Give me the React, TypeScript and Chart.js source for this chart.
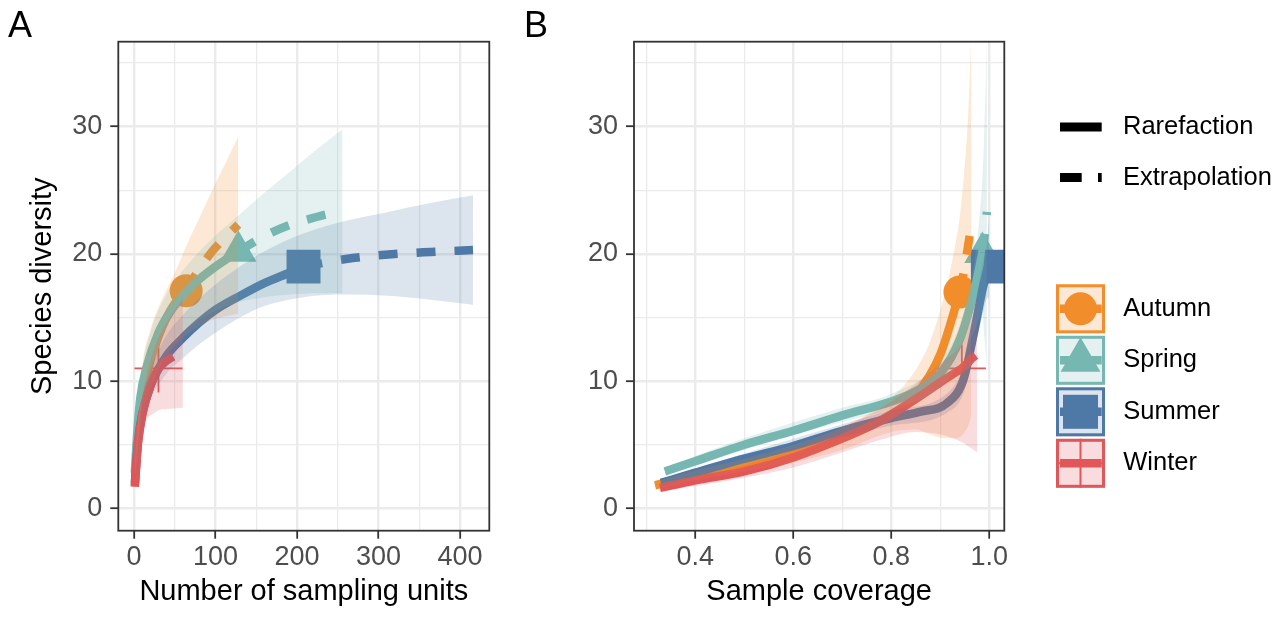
import React, { useEffect, useRef } from 'react';
import { Chart, registerables } from 'chart.js';

Chart.register(...registerables);

const FONT = '"Liberation Sans", Arial, Helvetica, sans-serif';

const SEASONS = ['Autumn', 'Spring', 'Summer', 'Winter'];
const LINE_TYPES = ['Rarefaction', 'Extrapolation'];
const PANEL_LABELS = ['A', 'B'];
const X_TITLE_A = 'Number of sampling units';
const X_TITLE_B = 'Sample coverage';
const Y_TITLE = 'Species diversity';

// ---- Tick values / labels ----
const xMajorA = [0, 100, 200, 300, 400];
const xMinorA = [50, 150, 250, 350];
const xLabelsA = ['0', '100', '200', '300', '400'];
const xMajorB = [0.4, 0.6, 0.8, 1.0];
const xMinorB = [0.3, 0.5, 0.7, 0.9];
const xLabelsB = ['0.4', '0.6', '0.8', '1.0'];
const yMajor = [0, 10, 20, 30];
const yMinor = [5, 15, 25, 35];
const yLabels = ['0', '10', '20', '30'];

// ---- Panel A: size-based ----
const sizeRareAutumn = [1, 5, 10, 20, 30, 40, 50, 64];
const divRareAutumn = [1.8, 6.0, 8.6, 11.6, 13.5, 15.0, 16.1, 17.1];
const sizeExtAutumn = [64, 80, 96, 112, 128];
const divExtAutumn = [17.1, 18.8, 20.2, 21.3, 22.3];
const sizeBandAutumn = [1, 10, 20, 30, 40, 50, 64, 80, 96, 112, 128];
const loBandAutumn = [1.4, 6.8, 9.3, 10.9, 12.0, 12.8, 13.6, 14.3, 14.8, 15.1, 15.3];
const hiBandAutumn = [2.3, 11.0, 14.0, 15.8, 17.2, 18.5, 20.6, 22.8, 25.0, 27.1, 29.2];

const sizeRareSpring = [1, 4, 8, 15, 30, 45, 60, 80, 100, 128];
const divRareSpring = [2.8, 6.0, 8.8, 11.0, 13.8, 15.5, 16.7, 18.0, 19.0, 20.2];
const sizeExtSpring = [128, 160, 192, 224, 256];
const divExtSpring = [20.2, 21.4, 22.3, 22.9, 23.4];
const sizeBandSpring = [1, 10, 20, 40, 64, 96, 128, 160, 192, 224, 256];
const loBandSpring = [2.1, 8.0, 10.3, 12.6, 14.1, 15.4, 16.2, 16.6, 16.8, 16.9, 16.9];
const hiBandSpring = [3.5, 10.8, 13.8, 16.8, 19.0, 21.2, 23.0, 24.8, 26.5, 28.2, 29.8];

const sizeRareSummer = [1, 5, 10, 20, 40, 60, 80, 100, 130, 160, 190, 208];
const divRareSummer = [2.0, 5.3, 7.4, 9.6, 12.0, 13.4, 14.6, 15.6, 16.7, 17.7, 18.5, 19.0];
const sizeExtSummer = [208, 260, 312, 364, 416];
const divExtSummer = [19.0, 19.6, 19.95, 20.15, 20.3];
const sizeBandSummer = [1, 10, 20, 40, 60, 80, 100, 130, 160, 208, 260, 312, 364, 416];
const loBandSummer = [1.5, 6.4, 8.5, 10.6, 11.8, 12.9, 13.8, 15.0, 15.9, 16.6, 16.8, 16.7, 16.4, 16.0];
const hiBandSummer = [2.6, 8.6, 10.9, 13.6, 15.2, 16.5, 17.6, 19.0, 20.2, 21.6, 22.6, 23.3, 24.0, 24.6];

const sizeRareWinter = [1, 3, 5, 10, 15, 20, 25, 30];
const divRareWinter = [1.7, 3.6, 5.2, 7.3, 8.6, 9.6, 10.4, 11.0];
const sizeExtWinter = [30, 40, 50, 60];
const divExtWinter = [11.0, 11.6, 12.0, 12.3];
const sizeBandWinter = [1, 5, 10, 15, 20, 25, 30, 40, 50, 60];
const loBandWinter = [1.2, 4.5, 6.2, 7.0, 7.3, 7.5, 7.7, 7.8, 7.85, 7.9];
const hiBandWinter = [2.2, 6.0, 8.6, 10.3, 11.6, 12.6, 13.4, 14.6, 15.6, 16.5];

const obsSizeA = [64, 128, 208, 30];
const obsDivA = [17.1, 20.2, 19.0, 11.0];

// ---- Panel B: coverage-based ----
const covRareAutumn = [0.318, 0.4, 0.5, 0.6, 0.7, 0.8, 0.85, 0.9, 0.94];
const divCovRareAutumn = [1.8, 2.6, 3.4, 4.3, 5.5, 7.4, 8.9, 12.1, 17.0];
const covExtAutumn = [0.94, 0.95, 0.957, 0.963];
const divCovExtAutumn = [17.0, 19.0, 20.7, 22.2];
const covBandAutumn = [0.318, 0.4, 0.5, 0.6, 0.7, 0.8, 0.85, 0.88, 0.91, 0.93, 0.94, 0.95, 0.957, 0.963];
const loCovAutumn = [1.5, 2.2, 2.9, 3.6, 4.6, 6.0, 6.2, 5.8, 5.5, 5.5, 5.6, 6.0, 6.5, 7.2];
const hiCovAutumn = [2.1, 3.0, 3.9, 5.0, 6.4, 8.7, 10.9, 13.2, 17.0, 20.6, 23.0, 27.0, 31.0, 37.0];

const covRareSpring = [0.338, 0.4, 0.5, 0.6, 0.7, 0.8, 0.85, 0.9, 0.94, 0.97, 0.986];
const divCovRareSpring = [2.9, 3.7, 5.0, 6.1, 7.3, 8.4, 9.2, 10.6, 13.3, 17.2, 20.1];
const covExtSpring = [0.986, 0.99, 0.993, 0.995];
const divCovExtSpring = [20.1, 21.4, 22.5, 23.3];
const covBandSpring = [0.338, 0.5, 0.7, 0.8, 0.9, 0.94, 0.97, 0.98, 0.986, 0.99, 0.993, 0.995];
const loCovSpring = [2.6, 4.6, 6.8, 7.8, 9.5, 11.5, 14.0, 15.0, 15.5, 13.5, 12.0, 11.2];
const hiCovSpring = [3.2, 5.5, 7.9, 9.0, 11.5, 14.5, 19.5, 23.0, 26.0, 30.0, 34.0, 37.0];

const covRareSummer = [0.33, 0.4, 0.5, 0.6, 0.7, 0.8, 0.86, 0.913, 0.947, 0.967, 0.985, 0.997];
const divCovRareSummer = [2.0, 2.8, 3.9, 4.9, 6.1, 7.1, 7.6, 8.25, 10.1, 13.5, 17.0, 19.0];
const covExtSummer = [0.997, 0.999, 1.0];
const divCovExtSummer = [19.0, 19.8, 20.3];
const covBandSummer = [0.33, 0.5, 0.7, 0.8, 0.913, 0.947, 0.967, 0.985, 0.997, 0.999, 1.0];
const loCovSummer = [1.7, 3.5, 5.6, 6.5, 7.5, 9.0, 12.0, 15.0, 16.6, 16.5, 16.0];
const hiCovSummer = [2.3, 4.3, 6.6, 7.7, 9.0, 11.2, 15.0, 19.0, 21.6, 23.0, 24.6];

const covRareWinter = [0.328, 0.4, 0.5, 0.6, 0.7, 0.78, 0.85, 0.9, 0.944];
const divCovRareWinter = [1.6, 2.2, 2.9, 4.0, 5.5, 6.9, 8.6, 9.9, 11.0];
const covExtWinter = [0.944, 0.955, 0.965, 0.975];
const divCovExtWinter = [11.0, 11.4, 11.8, 12.1];
const covBandWinter = [0.328, 0.5, 0.6, 0.7, 0.78, 0.85, 0.9, 0.944, 0.96, 0.975];
const loCovWinter = [1.3, 2.4, 3.2, 4.4, 5.4, 6.0, 5.8, 5.2, 4.8, 4.4];
const hiCovWinter = [1.9, 3.4, 4.6, 6.3, 7.9, 9.8, 11.4, 13.0, 14.5, 16.5];

const obsCovB = [0.94, 0.986, 0.997, 0.944];
const obsDivB = [17.0, 20.1, 19.0, 11.0];

// ---- Styles ----
const COLORS = ['#F28E2B', '#76B7B2', '#4E79A7', '#E15759'];
const SHAPES = ['circle', 'triangle', 'rect', 'cross'];
const SHAPE_RADII = [16.5, 21, 24, 24];

function rgba(hex: string, a: number) {
  const n = parseInt(hex.slice(1), 16);
  return `rgba(${(n >> 16) & 255},${(n >> 8) & 255},${n & 255},${a})`;
}
function pts(xs: number[], ys: number[]) {
  return xs.map((x, i) => ({ x, y: ys[i] }));
}

const seriesA = [
  { rx: sizeRareAutumn, ry: divRareAutumn, ex: sizeExtAutumn, ey: divExtAutumn, bx: sizeBandAutumn, lo: loBandAutumn, hi: hiBandAutumn },
  { rx: sizeRareSpring, ry: divRareSpring, ex: sizeExtSpring, ey: divExtSpring, bx: sizeBandSpring, lo: loBandSpring, hi: hiBandSpring },
  { rx: sizeRareSummer, ry: divRareSummer, ex: sizeExtSummer, ey: divExtSummer, bx: sizeBandSummer, lo: loBandSummer, hi: hiBandSummer },
  { rx: sizeRareWinter, ry: divRareWinter, ex: sizeExtWinter, ey: divExtWinter, bx: sizeBandWinter, lo: loBandWinter, hi: hiBandWinter },
];
const seriesB = [
  { rx: covRareAutumn, ry: divCovRareAutumn, ex: covExtAutumn, ey: divCovExtAutumn, bx: covBandAutumn, lo: loCovAutumn, hi: hiCovAutumn },
  { rx: covRareSpring, ry: divCovRareSpring, ex: covExtSpring, ey: divCovExtSpring, bx: covBandSpring, lo: loCovSpring, hi: hiCovSpring },
  { rx: covRareSummer, ry: divCovRareSummer, ex: covExtSummer, ey: divCovExtSummer, bx: covBandSummer, lo: loCovSummer, hi: hiCovSummer },
  { rx: covRareWinter, ry: divCovRareWinter, ex: covExtWinter, ey: divCovExtWinter, bx: covBandWinter, lo: loCovWinter, hi: hiCovWinter },
];

function buildDatasets(series: any[], obsX: number[], obsY: number[]) {
  const ds: any[] = [];
  series.forEach((s, i) => {
    const c = COLORS[i];
    const rev = 3 - i;
    // ribbons (drawn on top, translucent)
    ds.push({
      data: pts(s.bx, s.hi), borderWidth: 0, pointRadius: 0, fill: '+1',
      backgroundColor: rgba(c, 0.2), borderColor: 'rgba(0,0,0,0)', cubicInterpolationMode: 'monotone', order: 10 + rev,
    });
    ds.push({
      data: pts(s.bx, s.lo), borderWidth: 0, pointRadius: 0, fill: false,
      borderColor: 'rgba(0,0,0,0)', cubicInterpolationMode: 'monotone', order: 10 + rev,
    });
    // lines
    ds.push({
      data: pts(s.rx, s.ry), borderColor: c, borderWidth: 8.5, pointRadius: 0, fill: false,
      cubicInterpolationMode: 'monotone', order: 30 + rev * 2,
    });
    ds.push({
      data: pts(s.ex, s.ey), borderColor: c, borderWidth: 8.5, pointRadius: 0, fill: false,
      borderDash: [19, 19], cubicInterpolationMode: 'monotone', order: 30 + rev * 2 + 1,
    });
    // observed points
    ds.push({
      data: [{ x: obsX[i], y: obsY[i] }], showLine: false, fill: false,
      pointStyle: SHAPES[i], pointRadius: SHAPE_RADII[i],
      pointBackgroundColor: c, pointBorderColor: c,
      pointBorderWidth: SHAPES[i] === 'cross' ? 1.8 : 0, order: 60 + rev,
    });
  });
  return ds;
}

const near = (list: number[], v: number) => list.findIndex((m) => Math.abs(m - v) < 1e-6);

function axis(min: number, max: number, major: number[], minor: number[], labels: string[], horizontal: boolean, title: string | null, size: number) {
  const all = [...major, ...minor].sort((a, b) => a - b);
  return {
    type: 'linear',
    min, max,
    afterBuildTicks: (s: any) => { s.ticks = all.map((v) => ({ value: v })); },
    afterFit: (s: any) => { if (horizontal) s.height = size; else s.width = size; },
    ticks: {
      autoSkip: false, maxRotation: 0, minRotation: 0,
      padding: horizontal ? 3 : 8,
      color: '#4D4D4D',
      font: { family: FONT, size: 27 },
      callback: (v: number) => { const k = near(major, v); return k >= 0 ? labels[k] : ''; },
    },
    grid: {
      color: '#EBEBEB',
      lineWidth: (ctx: any) => (ctx.tick && near(major, ctx.tick.value) >= 0 ? 2.4 : 1.3),
      tickColor: (ctx: any) => (ctx.tick && near(major, ctx.tick.value) >= 0 ? '#333333' : 'rgba(0,0,0,0)'),
      tickWidth: 1.8,
      tickLength: 8,
      drawTicks: true,
    },
    border: { display: false },
    title: title
      ? {
          display: true, text: title, color: '#000',
          font: { family: FONT, size: 29 },
          padding: horizontal ? { top: 0, bottom: 7.6 } : { top: 26, bottom: 0 },
        }
      : { display: false },
  };
}

const framePlugin = {
  id: 'frame',
  afterDatasetsDraw(chart: any) {
    const { ctx, chartArea: a } = chart;
    ctx.save();
    ctx.strokeStyle = '#333333';
    ctx.lineWidth = 1.8;
    ctx.strokeRect(a.left, a.top, a.right - a.left, a.bottom - a.top);
    ctx.restore();
  },
};

function letterPlugin(text: string, x: number) {
  return {
    id: 'letter' + text,
    afterDraw(chart: any) {
      const ctx = chart.ctx;
      ctx.save();
      ctx.font = `36px ${FONT}`;
      ctx.fillStyle = '#000';
      ctx.textBaseline = 'alphabetic';
      ctx.textAlign = 'left';
      ctx.fillText(text, x, 37);
      ctx.restore();
    },
  };
}

const OX = -520;
const legendPlugin = {
  id: 'iLegend',
  afterDraw(chart: any) {
    const ctx = chart.ctx;
    ctx.save();
    ctx.lineCap = 'butt';
    ctx.strokeStyle = '#000';
    ctx.lineWidth = 9;
    ctx.beginPath(); ctx.moveTo(1060 + OX, 127); ctx.lineTo(1101.7 + OX, 127); ctx.stroke();
    ctx.setLineDash([21.7, 16.3]);
    ctx.beginPath(); ctx.moveTo(1060 + OX, 177.5); ctx.lineTo(1101.7 + OX, 177.5); ctx.stroke();
    ctx.setLineDash([]);
    ctx.font = `25.5px ${FONT}`;
    ctx.fillStyle = '#000';
    ctx.textBaseline = 'middle';
    ctx.textAlign = 'left';
    ctx.fillText(LINE_TYPES[0], 1123 + OX, 127);
    ctx.fillText(LINE_TYPES[1], 1123 + OX, 177.5);

    SEASONS.forEach((name, i) => {
      const c = COLORS[i];
      const left = 1056 + OX;
      const top = 284.3 + i * 51.5;
      const sz = 49;
      const cx = left + sz / 2;
      const cy = top + sz / 2;
      ctx.fillStyle = '#fff';
      ctx.fillRect(left, top, sz, sz);
      ctx.fillStyle = c;
      ctx.strokeStyle = c;
      if (i === 0) {
        ctx.beginPath(); ctx.arc(cx, cy, 16.5, 0, Math.PI * 2); ctx.fill();
      } else if (i === 1) {
        const r = 23;
        ctx.beginPath();
        for (let k = 0; k < 3; k++) {
          const ang = (k * 2 * Math.PI) / 3;
          const px = cx + Math.sin(ang) * r;
          const py = cy - Math.cos(ang) * r;
          if (k === 0) ctx.moveTo(px, py); else ctx.lineTo(px, py);
        }
        ctx.closePath(); ctx.fill();
      } else if (i === 2) {
        ctx.fillRect(cx - 17.5, cy - 17, 35, 34);
      } else {
        ctx.lineWidth = 2;
        ctx.beginPath();
        ctx.moveTo(cx, top); ctx.lineTo(cx, top + sz);
        ctx.moveTo(left, cy); ctx.lineTo(left + sz, cy);
        ctx.stroke();
      }
      ctx.lineWidth = 8.5;
      ctx.beginPath(); ctx.moveTo(1060 + OX, cy); ctx.lineTo(1101.7 + OX, cy); ctx.stroke();
      ctx.fillStyle = rgba(c, 0.2);
      ctx.fillRect(left, top, sz, sz);
      ctx.lineWidth = 3;
      ctx.strokeRect(left + 1.5, top + 1.5, sz - 3, sz - 3);
      ctx.fillStyle = '#000';
      ctx.fillText(name, 1123.3 + OX, cy);
    });
    ctx.restore();
  },
};

function baseOptions(padRight: number, yWidth: number, xScale: any, yTitle: string | null) {
  return {
    responsive: false,
    animation: false,
    devicePixelRatio: 1,
    events: [],
    layout: { padding: { left: 0, right: padRight, top: 41.7, bottom: 0 } },
    plugins: { legend: { display: false }, tooltip: { enabled: false } },
    scales: {
      x: xScale,
      y: axis(-1.76, 36.68, yMajor, yMinor, yLabels, false, yTitle, yWidth),
    },
  };
}

export default function App() {
  const refA = useRef<HTMLCanvasElement>(null);
  const refB = useRef<HTMLCanvasElement>(null);
  useEffect(() => {
    const chartA = new Chart(refA.current as any, {
      type: 'line',
      data: { datasets: buildDatasets(seriesA, obsSizeA, obsDivA) },
      options: baseOptions(520 - 489.3, 118.3, axis(-19.3, 436, xMajorA, xMinorA, xLabelsA, true, X_TITLE_A, 86.3), Y_TITLE) as any,
      plugins: [framePlugin, letterPlugin(PANEL_LABELS[0], 8)],
    } as any);
    const chartB = new Chart(refB.current as any, {
      type: 'line',
      data: { datasets: buildDatasets(seriesB, obsCovB, obsDivB) },
      options: baseOptions(767 - (1004.3 - 520), 114, axis(0.275, 1.0306, xMajorB, xMinorB, xLabelsB, true, X_TITLE_B, 86.3), null) as any,
      plugins: [framePlugin, letterPlugin(PANEL_LABELS[1], 4), legendPlugin],
    } as any);
    return () => { chartA.destroy(); chartB.destroy(); };
  }, []);
  return (
    <div style={{ position: 'fixed', left: 0, top: 0, width: 1287, height: 617, background: '#fff' }}>
      <canvas ref={refA} width={520} height={617} style={{ position: 'absolute', left: 0, top: 0, width: 520, height: 617 }} />
      <canvas ref={refB} width={767} height={617} style={{ position: 'absolute', left: 520, top: 0, width: 767, height: 617 }} />
    </div>
  );
}
